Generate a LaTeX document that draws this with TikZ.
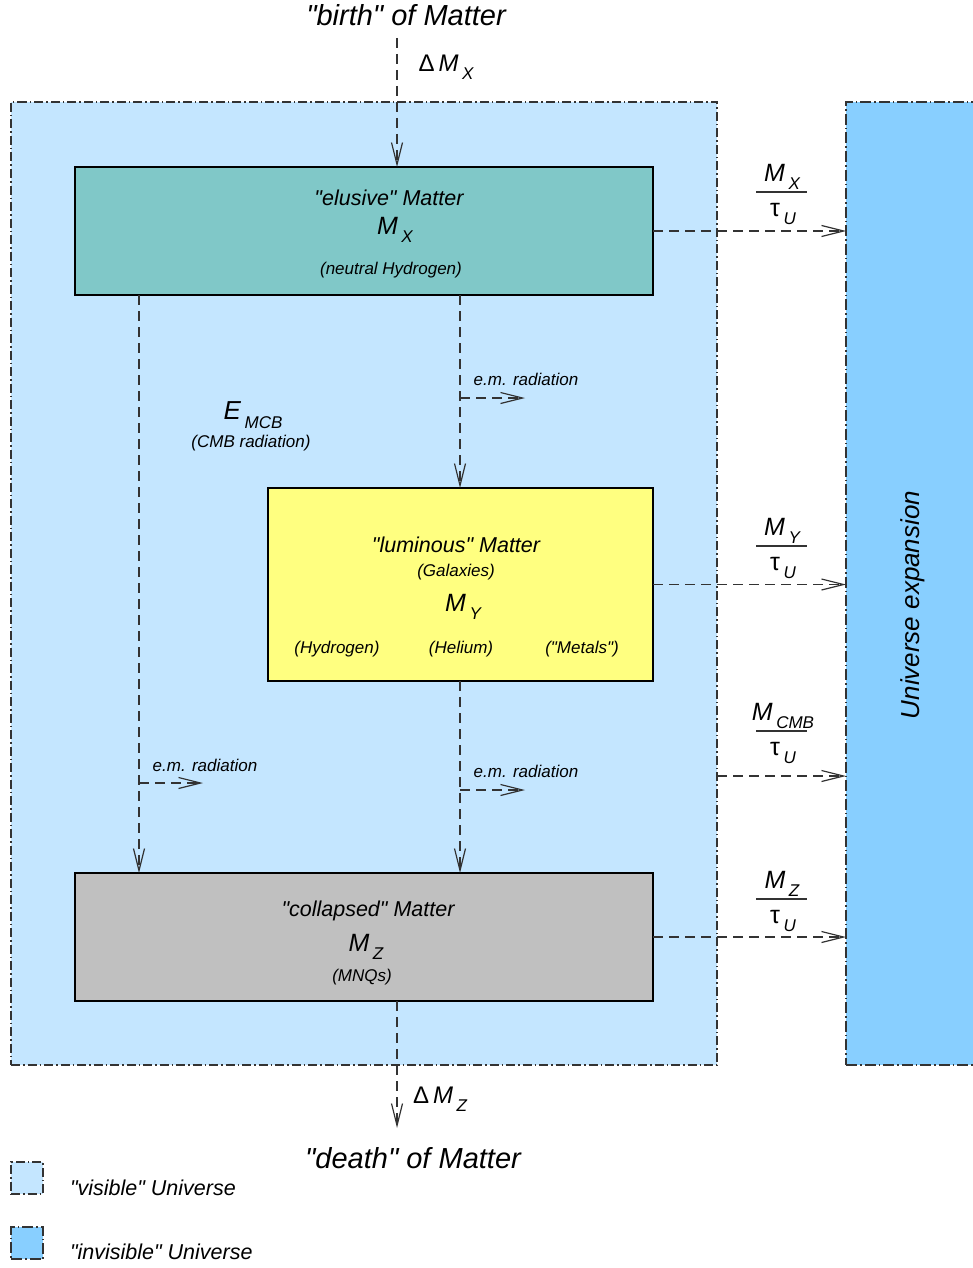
\documentclass[tikz,border=0pt]{standalone}
\usepackage{fontspec}
\setmainfont{Liberation Sans}
\usetikzlibrary{arrows.meta}
\definecolor{visfill}{HTML}{C4E6FF}
\definecolor{invfill}{HTML}{88CFFF}
\definecolor{tealfill}{HTML}{80C8C8}
\definecolor{yelfill}{HTML}{FFFF80}
\definecolor{grayfill}{HTML}{C0C0C0}
\definecolor{lin}{HTML}{333333}
\newcommand\fs[1]{\fontsize{#1}{#1}\selectfont}
\newcommand\sbx[1]{\hspace{0.14em}\raisebox{-0.32em}{\fs{17}#1}}
\newcommand\qq{\XeTeXglyph\XeTeXcharglyph"22\relax}
\begin{document}
\begin{tikzpicture}[x=1pt,y=-1pt,
  every node/.style={inner sep=0pt,outer sep=0pt,text=black},
  t28/.style={font=\itshape\fs{29}},
  t25/.style={font=\itshape\fs{26}},
  t21/.style={font=\itshape\fs{21.5}},
  t20/.style={font=\itshape\fs{21.5}},
  t17/.style={font=\itshape\fs{17}},
  matterbox/.style={draw=black,line width=1.3pt},
  visstyle/.style={draw=lin,line width=1.2pt,fill=visfill,dash pattern=on 9pt off 3pt on 1.5pt off 3pt},
  invstyle/.style={draw=lin,line width=1.2pt,fill=invfill,dash pattern=on 11pt off 3pt on 1.5pt off 3pt},
  flow/.style={draw=lin,line width=1.3pt,dash pattern=on 10pt off 6pt,
    -{Straight Barb[length=22pt,width=11pt,line width=1.2pt]}},
  fracline/.style={draw=lin,line width=1.3pt}
]
\clip (0,0) rectangle (973,1268);
% universes
\node[visstyle,minimum width=706pt,minimum height=963pt] (vis) at (364,583.5) {};
\node[invstyle,minimum width=160pt,minimum height=963pt] (inv) at (926,583.5) {};
\node[t25,rotate=90] (invlabel) at (913,605) {Universe expansion};
% matter boxes
\node[matterbox,fill=tealfill,minimum width=578pt,minimum height=128pt] (mx) at (364,231) {};
\node[matterbox,fill=yelfill,minimum width=385pt,minimum height=193pt] (my) at (460.5,584.5) {};
\node[matterbox,fill=grayfill,minimum width=578pt,minimum height=128pt] (mz) at (364,937) {};
% texts in boxes
\node[t20] (mxa) at (389,198) {\qq elusive\qq{} Matter};
\node[font=\itshape\fs{25}] (mxb) at (395,230) {M\sbx{X}};
\node[t17] (mxc) at (391,270) {(neutral Hydrogen)};
\node[t20] (mya) at (456,545) {\qq luminous\qq{} Matter};
\node[t17] (myb) at (456,572) {(Galaxies)};
\node[font=\itshape\fs{25}] (myc) at (463,607) {M\sbx{Y}};
\node[t17] (myd) at (337,649) {(Hydrogen)};
\node[t17] (mye) at (461,649) {(Helium)};
\node[t17] (myf) at (582,649) {(\qq Metals\qq)};
\node[t20] (mza) at (368,911) {\qq collapsed\qq{} Matter};
\node[font=\itshape\fs{25}] (mzb) at (366,947) {M\sbx{Z}};
\node[t17] (mzc) at (362,977) {(MNQs)};
\node[font=\itshape\fs{26}] (emcb) at (253,415) {E\sbx{MCB}};
\node[t17] (cmbr) at (251,443) {(CMB radiation)};
% birth / death
\node[t28] (birth) at (406,15) {\qq birth\qq{} of Matter};
\node[t28] (death) at (413,1158) {\qq death\qq{} of Matter};
\coordinate (btop) at (397,38);
\coordinate (dbot) at (397,1128);
\draw[flow] (btop) -- (mx.north -| btop);
\node[font=\itshape\fs{24}] (dmx) at (446,67) {{\upshape Δ}\,M\sbx{X}};
\draw[flow] (mz.south -| dbot) -- (dbot);
\node[font=\itshape\fs{24}] (dmz) at (440,1099) {{\upshape Δ}\,M\sbx{Z}};
% internal flows
\coordinate (lx) at (139,0);
\coordinate (rx) at (460,0);
\draw[flow] (mx.south -| lx) -- (mz.north -| lx);
\draw[flow] (mx.south -| rx) -- (my.north -| rx);
\draw[flow] (my.south -| rx) -- (mz.north -| rx);
% e.m. radiation branches
\coordinate (e1s) at (460,398);
\coordinate (e1e) at (525,398);
\coordinate (e2s) at (139,783);
\coordinate (e2e) at (203,783);
\coordinate (e3s) at (460,790);
\coordinate (e3e) at (525,790);
\draw[flow] (e1s) -- (e1e);
\draw[flow] (e2s) -- (e2e);
\draw[flow] (e3s) -- (e3e);
\node[t17] (e1l) at (526,379) {e.m. radiation};
\node[t17] (e2l) at (205,765) {e.m. radiation};
\node[t17] (e3l) at (526,771) {e.m. radiation};
% outflows to invisible universe
\coordinate (cmbs) at (717,776);
\draw[flow] (mx.east) -- (inv.west |- mx.east);
\draw[flow] (my.east) -- (inv.west |- my.east);
\draw[flow] (cmbs) -- (inv.west |- cmbs);
\draw[flow] (mz.east) -- (inv.west |- mz.east);
% fractions
\foreach \nm/\yy/\sub in {fx/192/X, fy/546/Y, fz/899/Z}{
  \node[font=\itshape\fs{25}] (\nm n) at (782,\yy-15) {M\sbx{\sub}};
  \coordinate (\nm a) at (756,\yy);
  \coordinate (\nm b) at (807,\yy);
  \draw[fracline] (\nm a) -- (\nm b);
  \node[font=\itshape\fs{25}] (\nm d) at (783,\yy+22) {{\upshape τ}\sbx{U}};
}
\node[font=\itshape\fs{25}] (fcn) at (783,716) {M\sbx{CMB}};
\coordinate (fca) at (756,731);
\coordinate (fcb) at (807,731);
\draw[fracline] (fca) -- (fcb);
\node[font=\itshape\fs{25}] (fcd) at (783,753) {{\upshape τ}\sbx{U}};
% legend
\node[visstyle,minimum width=32pt,minimum height=32pt] (leg1) at (27,1178) {};
\node[invstyle,minimum width=32pt,minimum height=32pt] (leg2) at (27,1243) {};
\node[t21,anchor=west] (leg1l) at (70,1188) {\qq visible\qq{} Universe};
\node[t21,anchor=west] (leg2l) at (70,1252) {\qq invisible\qq{} Universe};
\end{tikzpicture}
\end{document}
